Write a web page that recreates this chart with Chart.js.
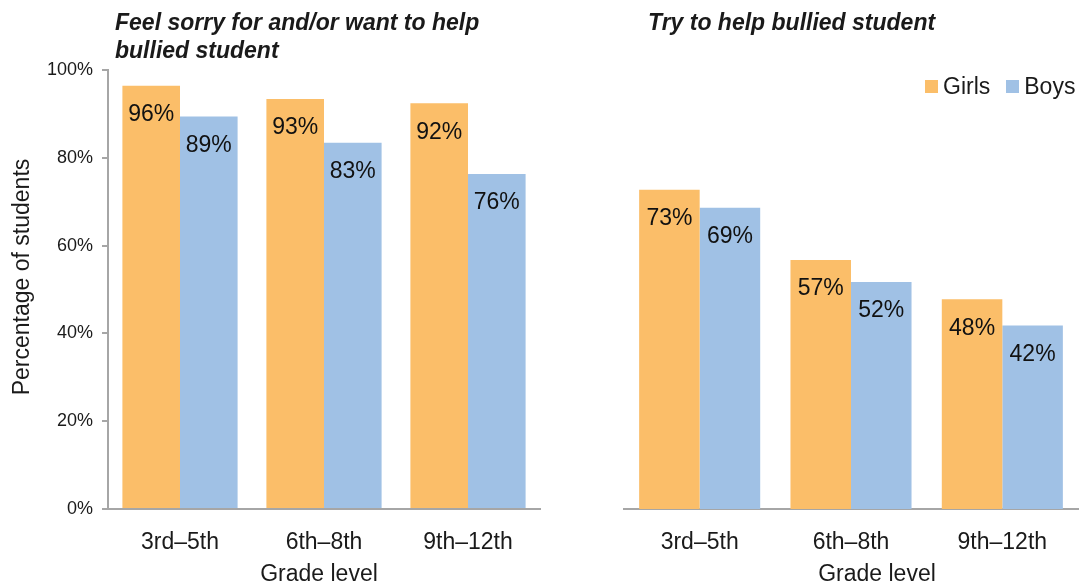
<!DOCTYPE html>
<html>
<head>
<meta charset="utf-8">
<script src="https://cdn.jsdelivr.net/npm/chart.js@4.4.1/dist/chart.umd.min.js"></script>
<style>
  body { margin: 0; background: #fff; font-family: "Liberation Sans", Arial, sans-serif; color: #1a1a1a; }
  #wrap { position: relative; width: 1084px; height: 586px; overflow: hidden; }
  .cv { position: absolute; top: 0; }
  .ptitle { position: absolute; font-weight: bold; font-style: italic; font-size: 23px; line-height: 28px; }
  .xtitle { position: absolute; top: 559px; width: 200px; text-align: center; font-size: 23px; line-height: 28px; }
  #ytitle { position: absolute; left: 21px; top: 277px; width: 300px; margin-left: -150px; margin-top: -14px;
            text-align: center; font-size: 23px; line-height: 28px; transform: rotate(-90deg); white-space: nowrap; }
  #legend { position: absolute; left: 925px; top: 71px; display: flex; align-items: center; font-size: 23px; line-height: 30px; }
  #legend span.sw { display: inline-block; width: 13px; height: 13px; margin-right: 5px; }
</style>
</head>
<body>
<div id="wrap">
  <div class="cv" style="left:0;width:560px;height:586px"><canvas id="left-chart"></canvas></div>
  <div class="cv" style="left:560px;width:524px;height:586px"><canvas id="right-chart"></canvas></div>
  <div class="ptitle" style="left:115px;top:8px">Feel sorry for and/or want to help<br>bullied student</div>
  <div class="ptitle" style="left:648px;top:8px">Try to help bullied student</div>
  <div id="ytitle">Percentage of students</div>
  <div class="xtitle" style="left:219px">Grade level</div>
  <div class="xtitle" style="left:777px">Grade level</div>
  <div id="legend">
    <span class="sw" style="background:#FBBE69"></span><span style="margin-right:16px">Girls</span>
    <span class="sw" style="background:#A0C1E5"></span><span>Boys</span>
  </div>
</div>
<script>
var grades = ['3rd\u20135th', '6th\u20138th', '9th\u201312th'];
var yTicks = [0, 20, 40, 60, 80, 100];

// feel sorry for and/or want to help
var sorryGirls = [96.4, 93.4, 92.4];
var sorryBoys = [89.4, 83.4, 76.3];
// try to help
var helpGirls = [72.7, 56.7, 47.8];
var helpBoys = [68.6, 51.7, 41.8];

var girlsColor = '#FBBE69';
var boysColor = '#A0C1E5';
var axisColor = '#A6A6A6';

Chart.defaults.font.family = '"Liberation Sans", Arial, sans-serif';
Chart.defaults.color = '#1a1a1a';

// value labels inside the bar tops
var barLabels = {
  id: 'barLabels',
  afterDatasetsDraw: function(chart) {
    var ctx = chart.ctx;
    ctx.save();
    ctx.font = '23px "Liberation Sans", Arial, sans-serif';
    ctx.fillStyle = '#111';
    ctx.textAlign = 'center';
    ctx.textBaseline = 'middle';
    chart.data.datasets.forEach(function(ds, i) {
      chart.getDatasetMeta(i).data.forEach(function(bar, j) {
        ctx.fillText(Math.round(ds.data[j]) + '%', bar.x, bar.y + 29);
      });
    });
    ctx.restore();
  }
};

function makeData(girls, boys) {
  return {
    labels: grades,
    datasets: [
      { label: 'Girls', data: girls, backgroundColor: girlsColor, borderWidth: 0 },
      { label: 'Boys', data: boys, backgroundColor: boysColor, borderWidth: 0 }
    ]
  };
}

function xScale() {
  return {
    grid: { display: false, drawTicks: false },
    border: { color: axisColor, width: 2 },
    ticks: { font: { size: 23 }, padding: 20, color: '#1a1a1a' },
    afterFit: function(s) { s.height = 77; }
  };
}

var leftChart = new Chart(document.getElementById('left-chart'), {
  type: 'bar',
  data: makeData(sorryGirls, sorryBoys),
  options: {
    responsive: true,
    maintainAspectRatio: false,
    animation: false,
    categoryPercentage: 0.8,
    barPercentage: 1.0,
    layout: { padding: { top: 70, left: 0, right: 20, bottom: 0 } },
    plugins: { legend: { display: false }, tooltip: { enabled: false } },
    scales: {
      x: xScale(),
      y: {
        min: 0,
        max: 100,
        afterBuildTicks: function(s) { s.ticks = yTicks.map(function(v) { return { value: v }; }); },
        ticks: { font: { size: 18 }, padding: 9, color: '#1a1a1a', callback: function(v) { return v + '%'; } },
        grid: { drawOnChartArea: false, drawTicks: true, tickLength: 6, color: axisColor, lineWidth: 2 },
        border: { color: axisColor, width: 2 },
        afterFit: function(s) { s.width = 108; }
      }
    }
  },
  plugins: [barLabels]
});

var rightChart = new Chart(document.getElementById('right-chart'), {
  type: 'bar',
  data: makeData(helpGirls, helpBoys),
  options: {
    responsive: true,
    maintainAspectRatio: false,
    animation: false,
    categoryPercentage: 0.8,
    barPercentage: 1.0,
    layout: { padding: { top: 70, left: 64, right: 6, bottom: 0 } },
    plugins: { legend: { display: false }, tooltip: { enabled: false } },
    scales: {
      x: xScale(),
      y: { min: 0, max: 100, display: false }
    }
  },
  plugins: [barLabels]
});
</script>
</body>
</html>
